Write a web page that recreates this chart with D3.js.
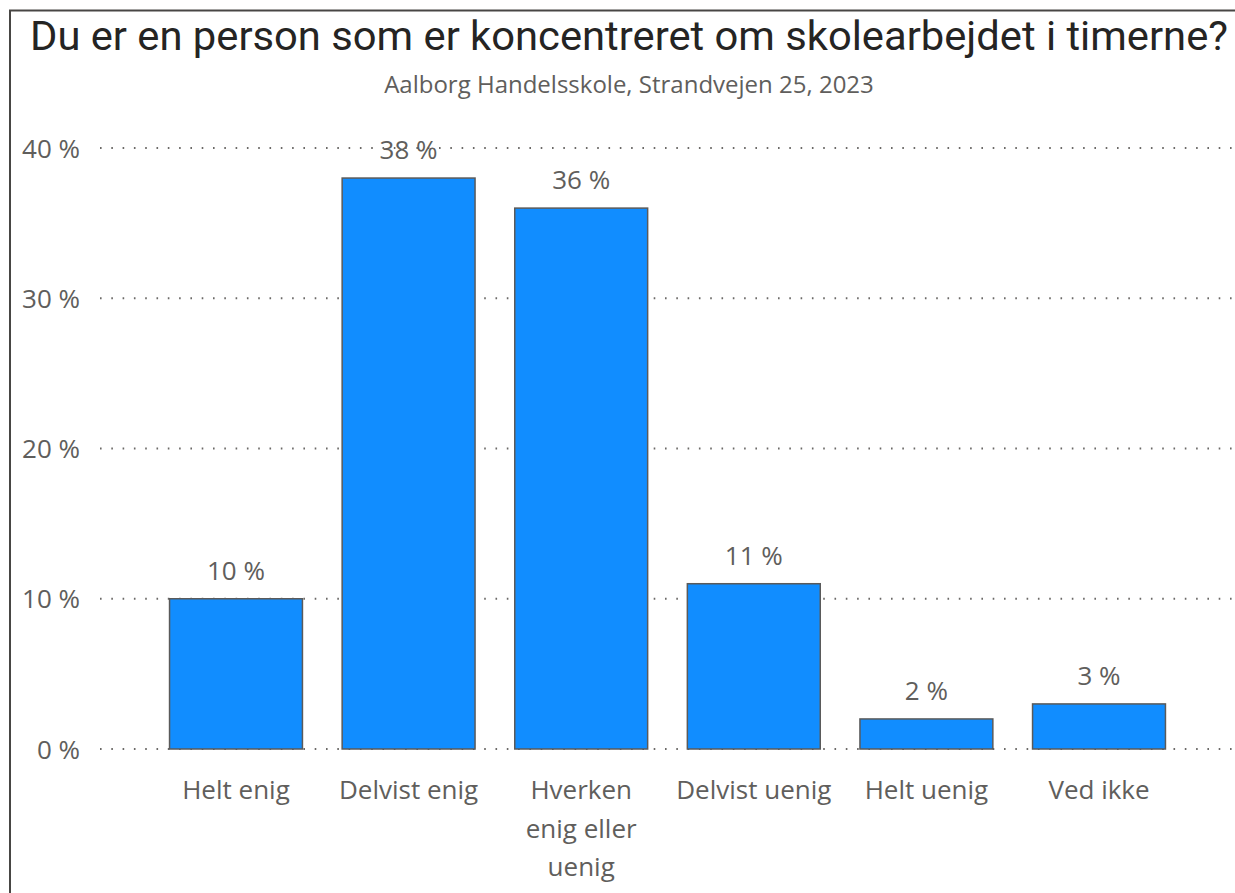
<!DOCTYPE html>
<html>
<head>
<meta charset="utf-8">
<script src="https://cdn.jsdelivr.net/npm/d3@7"></script>
<style>
  html, body { margin: 0; padding: 0; background: #fff; }
  svg { display: block; }
</style>
</head>
<body>
<svg id="chart" width="1235" height="893"></svg>
<script>
const titleText = "Du er en person som er koncentreret om skolearbejdet i timerne?";
const subtitleText = "Aalborg Handelsskole, Strandvejen 25, 2023";
const categories = ["Helt enig", "Delvist enig", "Hverken enig eller uenig", "Delvist uenig", "Helt uenig", "Ved ikke"];
const values = [10, 38, 36, 11, 2, 3];
const yTicks = [0, 10, 20, 30, 40];

const svg = d3.select("#chart");
const W = 1235, H = 893;
const labelFont = "'Open Sans', 'Noto Sans', sans-serif";
const gray = "#605E5C";

// frame
svg.append("path")
  .attr("d", `M10,${H} L10,10.5 L${W},10.5`)
  .attr("fill", "none").attr("stroke", "#484644").attr("stroke-width", 2);

// title
svg.append("text")
  .attr("x", 30).attr("y", 50)
  .attr("font-family", "Roboto, 'DejaVu Sans', sans-serif")
  .attr("font-size", 40)
  .attr("fill", "#252423")
  .attr("textLength", 1198).attr("lengthAdjust", "spacingAndGlyphs")
  .text(titleText);

svg.append("text")
  .attr("x", 629).attr("y", 93)
  .attr("text-anchor", "middle")
  .attr("font-family", labelFont)
  .attr("font-size", 24)
  .attr("fill", gray)
  .text(subtitleText);

const x = d3.scaleBand().domain(categories).range([149.7, 1185.3]).paddingInner(0.23).paddingOuter(0.115);
const y = d3.scaleLinear().domain([0, 40]).range([749, 148]);

// gridlines
svg.append("g").selectAll("line").data(yTicks).join("line")
  .attr("x1", 100).attr("x2", W)
  .attr("y1", d => y(d)).attr("y2", d => y(d))
  .attr("stroke", "#6b6967").attr("stroke-width", 2)
  .attr("stroke-dasharray", "1.6,9.7");

// y axis
const yAxis = d3.axisLeft(y).tickValues(yTicks).tickFormat(d => d + " %").tickSize(0).tickPadding(0);
const yg = svg.append("g").attr("transform", "translate(80,0)").call(yAxis);
yg.select(".domain").remove();
yg.selectAll("text").attr("font-family", labelFont).attr("font-size", 26).attr("fill", gray).attr("dy", "0.35em");

// bars
svg.append("g").selectAll("rect").data(values).join("rect")
  .attr("x", (d, i) => x(categories[i]))
  .attr("width", x.bandwidth())
  .attr("y", d => y(d))
  .attr("height", d => y(0) - y(d))
  .attr("fill", "#118DFF")
  .attr("stroke", "#5a5a5a").attr("stroke-width", 1.5);

// data labels
svg.append("g").selectAll("text").data(values).join("text")
  .attr("x", (d, i) => x(categories[i]) + x.bandwidth() / 2)
  .attr("y", d => y(d) - 19)
  .attr("text-anchor", "middle")
  .attr("font-family", labelFont).attr("font-size", 26)
  .attr("fill", gray)
  .text(d => d + " %");

// x axis
const xAxis = d3.axisBottom(x).tickSize(0).tickPadding(0);
const xg = svg.append("g").attr("transform", "translate(0,749)").call(xAxis);
xg.select(".domain").remove();
xg.selectAll("text")
  .attr("font-family", labelFont).attr("font-size", 26).attr("fill", gray)
  .attr("y", 50).attr("dy", 0)
  .each(function(d) {
    const t = d3.select(this);
    const full = this.getComputedTextLength();
    if (full <= x.step()) return;
    const words = d.split(" ");
    t.text(null);
    let line = [];
    let tspan = t.append("tspan").attr("x", 0).attr("dy", 0);
    for (const w of words) {
      line.push(w);
      tspan.text(line.join(" "));
      if (tspan.node().getComputedTextLength() > x.bandwidth() && line.length > 1) {
        line.pop();
        tspan.text(line.join(" "));
        line = [w];
        tspan = t.append("tspan").attr("x", 0).attr("dy", 38.5).text(w);
      }
    }
  });
</script>
</body>
</html>
